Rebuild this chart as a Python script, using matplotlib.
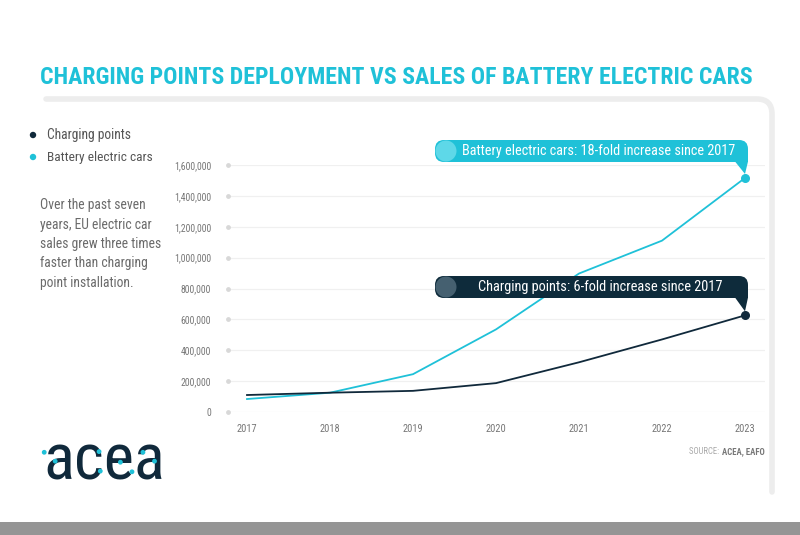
import matplotlib
matplotlib.use("Agg")
import matplotlib.pyplot as plt
import matplotlib.transforms as mtransforms
from matplotlib import font_manager
from matplotlib.patches import FancyBboxPatch, Polygon, Circle, Rectangle, PathPatch
from matplotlib.path import Path
from matplotlib.ticker import FuncFormatter

years = [2017, 2018, 2019, 2020, 2021, 2022, 2023]
charging_points = [110000, 125000, 137000, 187000, 322000, 470000, 626000]
battery_cars = [84000, 125000, 245000, 535000, 897000, 1110000, 1516000]
y_ticks = [0, 200000, 400000, 600000, 800000, 1000000, 1200000, 1400000, 1600000]

NAVY = "#10293b"
CYAN = "#1fc1d8"
W, H = 800, 535

installed = {f.name for f in font_manager.fontManager.ttflist}
NARROW = next((n for n in ["Liberation Sans Narrow", "Roboto Condensed", "DejaVu Sans"] if n in installed),
              "DejaVu Sans")

fig = plt.figure(figsize=(8, 5.35), dpi=100)
fig.patch.set_facecolor("white")
# top-left origin pixel coordinates
PX = mtransforms.Affine2D().scale(1 / W, -1 / H).translate(0, 1) + fig.transFigure
renderer = fig.canvas.get_renderer()


def width_px(t):
    return t.get_window_extent(renderer).width


def fit(t, target):
    t.set_fontsize(t.get_fontsize() * target / width_px(t))


# title, sized to span the header
title = fig.text(40, 78, "CHARGING POINTS DEPLOYMENT VS SALES OF BATTERY ELECTRIC CARS", transform=PX,
                 color=CYAN, fontsize=16, fontweight="bold", va="center", ha="left", family=NARROW)
fit(title, 710)

# light frame line with rounded corner
verts = [(46, 99), (757, 99), (772, 99), (772, 114), (772, 492)]
codes = [Path.MOVETO, Path.LINETO, Path.CURVE3, Path.CURVE3, Path.LINETO]
fig.patches.append(PathPatch(Path(verts, codes), transform=PX, fill=False,
                             edgecolor="#ededed", linewidth=4, capstyle="round"))

# bottom bar
fig.patches.append(Rectangle((0, 522), W, 13, transform=PX, facecolor="#959595", edgecolor="none"))

# legend
for y, c, lab, wd in [(135, NAVY, "Charging points", 84), (157, CYAN, "Battery electric cars", 105)]:
    fig.patches.append(Circle((33, y), 3.2, transform=PX, facecolor=c, edgecolor="none"))
    t = fig.text(47, y, lab, transform=PX, fontsize=10, color="#555555", va="center", family=NARROW)
    fit(t, wd)

para = ["Over the past seven", "years, EU electric car", "sales grew three times",
        "faster than charging", "point installation."]
for i, line in enumerate(para):
    t = fig.text(40, 205 + i * 19.5, line, transform=PX, fontsize=10, color="#6a6a6a", va="center",
                 family=NARROW)
    if i == 2:
        ref = t
fit(ref, 120)
for t in fig.texts[-5:]:
    t.set_fontsize(ref.get_fontsize())

# logo, with its cyan dots placed relative to the letters
logo = fig.text(43, 480, "acea", transform=PX, fontsize=52, color=NAVY, va="baseline", ha="left",
                family=NARROW)
fit(logo, 122)
lw = width_px(logo)
xh = 0.53 * logo.get_fontsize() * 100 / 72
for fxr, fyr in [(0.01, 0.19), (0.10, 0.45), (0.46, 0.17), (0.47, 0.74),
                 (0.635, 0.48), (0.73, 0.76), (0.82, 0.19), (0.915, 0.45)]:
    fig.patches.append(Circle((43 + fxr * lw, 480 - xh + fyr * xh), 2.4, transform=PX,
                              facecolor=CYAN, edgecolor="none", zorder=5))

# source
src = fig.text(765, 452, "ACEA, EAFO", transform=PX, fontsize=6.3, color="#777777",
               fontweight="bold", ha="right", va="center", family=NARROW)
fig.text(765 - width_px(src) - 1, 452, "SOURCE: ", transform=PX, fontsize=6.3, color="#aaaaaa",
         ha="right", va="center", family=NARROW)

# chart axes
ax = fig.add_axes([228 / W, 1 - 412 / H, (765 - 228) / W, (412 - 165) / H])
ax.set_xlim(2017 - 19 / 83, 2023 + 20 / 83)
ax.set_ylim(0, 1600000)
for s in ax.spines.values():
    s.set_visible(False)
ax.set_yticks(y_ticks)
ax.yaxis.set_major_formatter(FuncFormatter(lambda v, p: f"{int(v):,}"))
ax.set_xticks(years)
ax.tick_params(length=0, labelsize=7, labelcolor="#777777")
ax.tick_params(axis="y", pad=12)
ax.tick_params(axis="x", pad=9, labelsize=7.5)
for lab in ax.get_xticklabels() + ax.get_yticklabels():
    lab.set_fontfamily(NARROW)
ax.grid(axis="y", color="#f0f0f0", linewidth=0.9)
ax.set_axisbelow(True)
ax.scatter([ax.get_xlim()[0]] * len(y_ticks), y_ticks, s=6, color="#d8d8d8", clip_on=False, zorder=1)

ax.plot(years, battery_cars, color=CYAN, linewidth=1.3, zorder=3)
ax.plot(years, charging_points, color=NAVY, linewidth=1.3, zorder=4)
ax.scatter([years[-1]], [battery_cars[-1]], s=30, color=CYAN, zorder=5, clip_on=False)
ax.scatter([years[-1]], [charging_points[-1]], s=30, color=NAVY, zorder=5, clip_on=False)


def callout(ytop, ybot, color, light, text, tx, twidth, px, py):
    x0, x1 = 435, 748
    h = ybot - ytop
    fig.patches.append(FancyBboxPatch((x0, ytop), x1 - x0, h, boxstyle="round,pad=0,rounding_size=9",
                                      transform=PX, facecolor=color, edgecolor="none"))
    fig.patches.append(Rectangle((x1 - 10, ybot - 10), 10, 10, transform=PX,
                                 facecolor=color, edgecolor="none"))
    fig.patches.append(Circle((x0 + h / 2, ytop + h / 2), h / 2 - 0.5, transform=PX,
                              facecolor=light, edgecolor="none"))
    fig.patches.append(Polygon([(x1 - 13, ybot - 0.5), (x1, ybot - 0.5), (px, py)], closed=True,
                               transform=PX, facecolor=color, edgecolor="none"))
    t = fig.text(tx, ytop + h / 2, text, transform=PX, fontsize=11, color="white", ha="left",
                 va="center", family=NARROW, zorder=10)
    fit(t, twidth)


def data_px(x, y):
    dx, dy = ax.transData.transform((x, y))
    return dx, H - dy


bx, by = data_px(years[-1], battery_cars[-1])
cx, cy = data_px(years[-1], charging_points[-1])
callout(140, 162, CYAN, "#5ed8e8", "Battery electric cars: 18-fold increase since 2017",
        462, 273, bx, by - 4)
callout(276, 298, "#0e2b3b", "#456070", "Charging points: 6-fold increase since 2017",
        478, 245, cx, cy - 4)

fig.savefig("out.png", dpi=100, facecolor="white")
